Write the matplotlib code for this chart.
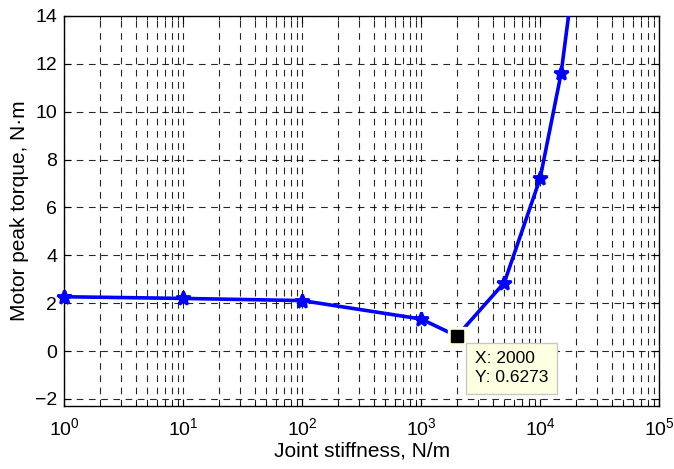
import matplotlib
matplotlib.use("Agg")
import matplotlib.pyplot as plt
import numpy as np
from matplotlib.ticker import LogLocator, FixedLocator, NullFormatter

plt.rcParams['font.family'] = ['Liberation Sans', 'DejaVu Sans']

stiffness = [1, 10, 100, 1000, 2000, 5000, 10000, 15000, 20000]
torque = [2.27, 2.2, 2.11, 1.34, 0.6273, 2.86, 7.22, 11.6, 16.4]
tip_x = 2000
tip_y = 0.6273
yticks = [-2, 0, 2, 4, 6, 8, 10, 12, 14]
xticks = [1, 10, 100, 1000, 10000, 100000]

fig = plt.figure(figsize=(6.74, 4.69), dpi=100)
ax = fig.add_axes([0.095, 0.134, 0.883, 0.832])

ax.plot(stiffness, torque, color='#0000ff', lw=2.6, marker='*', ms=10,
        mew=2, zorder=3, clip_on=True)
ax.plot(stiffness[:1], torque[:1], color='#0000ff', marker='*', ms=10,
        mew=2, zorder=3, clip_on=False, ls='none')
ax.plot([tip_x], [tip_y], marker='s', ms=13, color='#ffffe1',
        mec='#ffffe1', zorder=4, ls='none')
ax.plot([tip_x], [tip_y], marker='s', ms=9, color='black', zorder=5, ls='none')

ax.set_xscale('log')
ax.set_xlim(1, 1e5)
ax.set_ylim(-2.3, 14)
ax.set_yticks(yticks)
ax.xaxis.set_major_locator(FixedLocator(xticks))
ax.xaxis.set_minor_locator(LogLocator(base=10, subs=np.arange(2, 10), numticks=20))
ax.xaxis.set_minor_formatter(NullFormatter())

ax.grid(True, which='major', axis='both', color='black', ls=(0, (6, 5)), lw=0.8, alpha=0.85)
ax.grid(True, which='minor', axis='x', color='black', ls=(0, (6, 5)), lw=0.8, alpha=0.85)
ax.set_axisbelow(True)

ax.tick_params(which='both', direction='in', top=True, right=True, labelsize=14)
ax.tick_params(which='major', length=5)
ax.tick_params(which='minor', length=3)
ax.tick_params(axis='x', which='major', pad=8)
ax.tick_params(axis='y', which='major', pad=5)
for s in ax.spines.values():
    s.set_linewidth(1.0)

ax.set_xlabel('Joint stiffness, N/m', fontsize=15, labelpad=2)
ax.set_ylabel('Motor peak torque, N·m', fontsize=15, labelpad=4)

ax.annotate(f'X: {tip_x}\nY: {tip_y}', xy=(tip_x, tip_y), xytext=(13, -11),
            textcoords='offset points', fontsize=12.5, va='top', ha='left',
            linespacing=1.3,
            bbox=dict(boxstyle='square,pad=0.5', fc='#ffffe1', ec='#c8c8c8', lw=1),
            zorder=6)

fig.savefig('out.png', dpi=100)
